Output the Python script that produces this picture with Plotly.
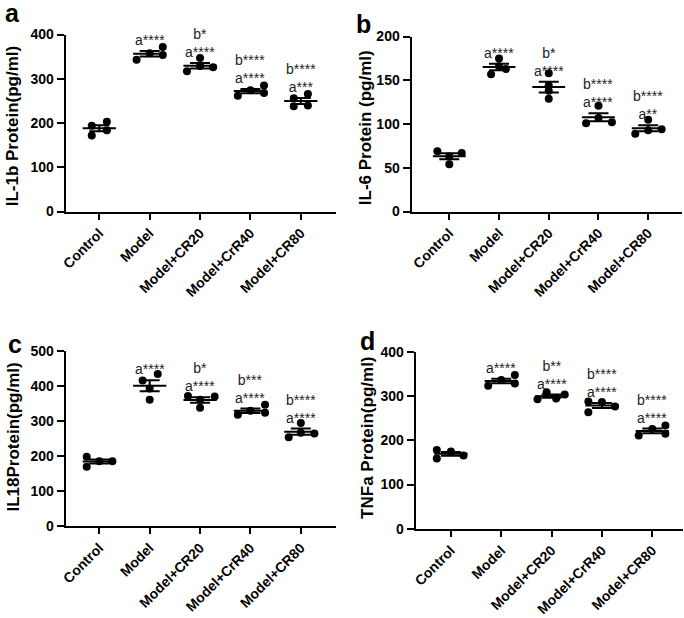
import plotly.graph_objects as go
import numpy as np

# group names on the x axis
groups = ["Control", "Model", "Model+CR20", "Model+CrR40", "Model+CR80"]

# protein levels (pg/ml), 4 replicates per group
il1b = [[194, 203, 172, 184], [343, 372, 354, 358], [317, 347, 326, 329],
        [262, 285, 268, 274], [238, 240, 256, 266]]
il6 = [[69, 67, 54, 63], [175, 157, 163, 166], [158, 144, 138, 129],
       [121, 101, 102, 107], [105, 89, 94, 93]]
il18 = [[198, 169, 185, 185], [415, 433, 360, 392], [371, 369, 337, 360],
        [317, 346, 323, 329], [253, 264, 294, 266]]
tnfa = [[178, 159, 175, 166], [324, 348, 329, 337], [293, 309, 295, 304],
        [288, 264, 287, 277], [211, 226, 234, 215]]

# significance marks above each group
sig_il1b = ["", "a****", "b*<br>a****", "b****<br>a****", "b****<br>a***"]
sig_il6 = ["", "a****", "b*<br>a****", "b****<br>a****", "b****<br>a**"]
sig_il18 = ["", "a****", "b*<br>a****", "b***<br>a****", "b****<br>a****"]
sig_tnfa = ["", "a****", "b**<br>a****", "b****<br>a****", "b****<br>a****"]

# horizontal spread of the dots (scatter-dot layout, category units)
swarm_a = [[-0.15, 0.15, -0.15, 0.15], [-0.26, 0.26, 0.26, 0], [-0.26, 0, 0.26, 0],
           [-0.25, 0.27, 0.27, 0], [-0.14, 0.14, -0.14, 0.14]]
swarm_b = [[-0.24, 0.25, 0, 0], [0, -0.16, 0.14, 0], [0, 0, 0, 0],
           [0, -0.25, 0.27, 0], [0, -0.26, 0.27, 0]]
swarm_c = [[-0.25, -0.25, 0, 0.26], [-0.14, 0.16, 0, 0], [-0.24, 0.29, 0, 0],
           [-0.25, 0.29, 0.29, 0], [-0.24, 0.27, 0, 0]]
swarm_d = [[-0.28, -0.28, 0, 0.25], [-0.26, 0.27, 0.27, 0], [-0.28, -0.1, 0.09, 0.26],
           [-0.27, -0.27, 0, 0.26], [-0.27, 0, 0.26, 0.26]]

W, H = 684, 618
FONT = "Liberation Sans, Arial, sans-serif"

panels = [
    dict(letter="a", data=il1b, sig=sig_il1b, swarm=swarm_a, title="IL-1b Protein(pg/ml)",
         ymax=400, dtick=100, xdom=[61, 333], ydom=[27.3, 209], xr=[-0.67, 4.69],
         tpos=(7, 120.5), lpos=(-2, 5)),
    dict(letter="b", data=il6, sig=sig_il6, swarm=swarm_b, title="IL-6 Protein (pg/ml)",
         ymax=200, dtick=50, xdom=[409.5, 682], ydom=[29.3, 209], xr=[-0.76, 4.68],
         tpos=(363, 123), lpos=(352, 16)),
    dict(letter="c", data=il18, sig=sig_il18, swarm=swarm_c, title="IL18Protein(pg/ml)",
         ymax=500, dtick=100, xdom=[61, 333], ydom=[351.7, 532], xr=[-0.67, 4.69],
         tpos=(9, 440), lpos=(1, 345)),
    dict(letter="d", data=tnfa, sig=sig_tnfa, swarm=swarm_d, title="TNFa Protein(pg/ml)",
         ymax=400, dtick=100, xdom=[413.7, 683], ydom=[353.3, 534.5], xr=[-0.70, 4.61],
         tpos=(365, 441), lpos=(356, 341.5)),
]

fig = go.Figure()
annotations = []
layout_axes = {}

for k, p in enumerate(panels):
    n = "" if k == 0 else str(k + 1)
    xa, ya = "x" + n, "y" + n
    data = [np.array(v, dtype=float) for v in p["data"]]
    means = [v.mean() for v in data]
    sems = [v.std(ddof=1) / np.sqrt(len(v)) for v in data]

    # individual dots
    xs, ys = [], []
    for i, v in enumerate(data):
        xs += [i + o for o in p["swarm"][i]]
        ys += list(v)
    fig.add_trace(go.Scatter(x=xs, y=ys, mode="markers", xaxis=xa, yaxis=ya,
                             marker=dict(size=8, color="black"), showlegend=False))

    # mean lines
    mx, my = [], []
    for i, m in enumerate(means):
        mx += [i - 0.33, i + 0.33, None]
        my += [m, m, None]
    fig.add_trace(go.Scatter(x=mx, y=my, mode="lines", xaxis=xa, yaxis=ya,
                             line=dict(color="black", width=2), showlegend=False))

    # SEM bars
    fig.add_trace(go.Scatter(x=list(range(len(groups))), y=means, mode="markers",
                             xaxis=xa, yaxis=ya, marker=dict(size=1, color="black"),
                             error_y=dict(type="data", array=sems, color="black",
                                          thickness=2, width=10),
                             showlegend=False))

    # significance labels
    for i, s in enumerate(p["sig"]):
        if not s:
            continue
        annotations.append(dict(x=i, y=means[i] + sems[i], xref=xa, yref=ya, text=s,
                                showarrow=False, yanchor="bottom", xanchor="center",
                                align="center", yshift=1,
                                font=dict(family=FONT, size=14, color="#222")))

    # y title and panel letter
    annotations.append(dict(x=p["tpos"][0] / W, y=1 - p["tpos"][1] / H, xref="paper",
                            yref="paper", text=p["title"], textangle=-90, showarrow=False,
                            xanchor="center", yanchor="middle",
                            font=dict(family=FONT, size=17, color="black", weight="bold")))
    annotations.append(dict(x=p["lpos"][0] / W, y=1 - p["lpos"][1] / H, xref="paper",
                            yref="paper", text=p["letter"], showarrow=False,
                            xanchor="left", yanchor="middle",
                            font=dict(family=FONT, size=25, color="black", weight="bold")))

    layout_axes["xaxis" + n] = dict(
        domain=[p["xdom"][0] / W, p["xdom"][1] / W], anchor=ya, range=p["xr"],
        tickvals=list(range(len(groups))), ticktext=groups, tickangle=-45,
        ticks="outside", ticklen=6, tickwidth=2, tickcolor="black",
        showline=True, linewidth=2, linecolor="black", showgrid=False, zeroline=False,
        tickfont=dict(family=FONT, size=14, color="black", weight="bold"))
    layout_axes["yaxis" + n] = dict(
        domain=[1 - p["ydom"][1] / H, 1 - p["ydom"][0] / H], anchor=xa,
        range=[0, p["ymax"]], dtick=p["dtick"], ticks="outside", ticklen=7,
        tickwidth=2, tickcolor="black", showline=True, linewidth=2, linecolor="black",
        showgrid=False, zeroline=False,
        tickfont=dict(family=FONT, size=14, color="black", weight="bold"))

fig.update_layout(
    width=W, height=H,
    margin=dict(l=0, r=0, t=0, b=0),
    plot_bgcolor="white", paper_bgcolor="white",
    annotations=annotations,
    **layout_axes,
)

# drop the browser's default body margin so the figure sits at the page corner
fig.write_html("out.html", config={"displayModeBar": False},
               post_script="document.body.style.margin='0';")
